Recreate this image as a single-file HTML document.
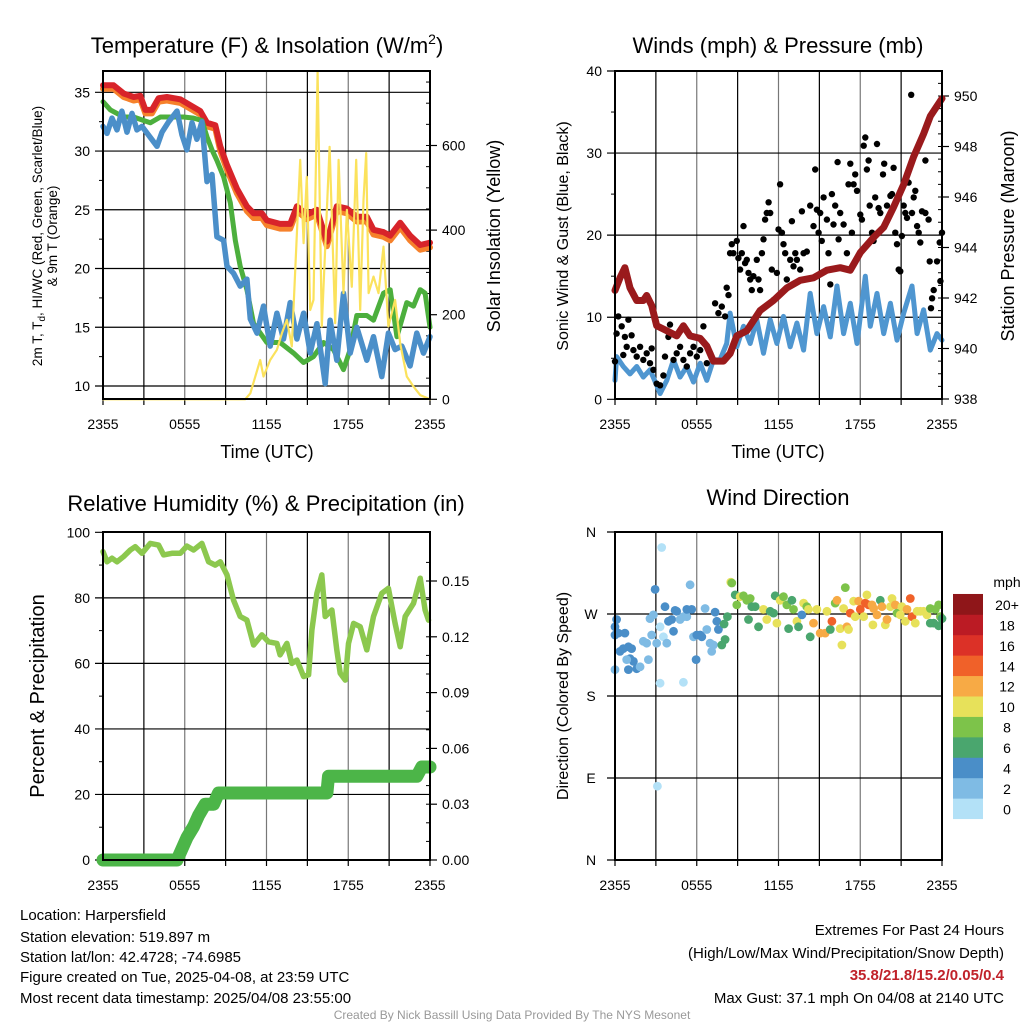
<!DOCTYPE html>
<html><head><meta charset="utf-8"><style>
body{margin:0;background:#fff;}
svg{display:block;font-family:"Liberation Sans",Arial,sans-serif;}
</style></head><body>
<svg id="chart" width="1024" height="1024" viewBox="0 0 1024 1024" xmlns="http://www.w3.org/2000/svg">
<rect width="1024" height="1024" fill="#fff"/>
<g id="layer"></g>
<text x="267" y="53" font-size="22" text-anchor="middle">Temperature (F) &amp; Insolation (W/m<tspan font-size="14" dy="-9">2</tspan><tspan dy="9">)</tspan></text>
<text x="778" y="53" font-size="22" text-anchor="middle">Winds (mph) &amp; Pressure (mb)</text>
<text x="266" y="511" font-size="22" text-anchor="middle">Relative Humidity (%) &amp; Precipitation (in)</text>
<text x="778" y="505" font-size="22" text-anchor="middle">Wind Direction</text>
<text font-size="13.5" text-anchor="middle" transform="translate(42,236) rotate(-90)">2m T, T<tspan font-size="10" dy="3">d</tspan><tspan dy="-3">, HI/WC (Red, Green, Scarlet/Blue)</tspan></text>
<text font-size="13.5" text-anchor="middle" transform="translate(57,236) rotate(-90)">&amp; 9m T (Orange)</text>
<text font-size="18" text-anchor="middle" transform="translate(500,236) rotate(-90)">Solar Insolation (Yellow)</text>
<text x="267" y="458" font-size="18" text-anchor="middle">Time (UTC)</text>
<text x="778" y="458" font-size="18" text-anchor="middle">Time (UTC)</text>
<text font-size="16" text-anchor="middle" transform="translate(568,236) rotate(-90)">Sonic Wind &amp; Gust (Blue, Black)</text>
<text font-size="18" text-anchor="middle" transform="translate(1014,236) rotate(-90)">Station Pressure (Maroon)</text>
<text font-size="20" text-anchor="middle" transform="translate(44,696) rotate(-90)">Percent &amp; Precipitation</text>
<text font-size="16" text-anchor="middle" transform="translate(568,696) rotate(-90)">Direction (Colored By Speed)</text>
<g font-size="15">
<text x="20" y="920">Location: Harpersfield</text>
<text x="20" y="942">Station elevation: 519.897 m</text>
<text x="20" y="962">Station lat/lon: 42.4728; -74.6985</text>
<text x="20" y="982">Figure created on Tue, 2025-04-08, at 23:59 UTC</text>
<text x="20" y="1003">Most recent data timestamp: 2025/04/08 23:55:00</text>
</g>
<g font-size="15" text-anchor="end">
<text x="1004" y="935">Extremes For Past 24 Hours</text>
<text x="1004" y="958">(High/Low/Max Wind/Precipitation/Snow Depth)</text>
<text x="1004" y="980" fill="#c0222a" font-weight="bold">35.8/21.8/15.2/0.05/0.4</text>
<text x="1004" y="1003">Max Gust: 37.1 mph On 04/08 at 2140 UTC</text>
</g>
<text x="512" y="1019" font-size="12" fill="#999" text-anchor="middle">Created By Nick Bassill Using Data Provided By The NYS Mesonet</text>
</svg>
<script>
// ---- Panel 1 data ----
const redT=[0,.78,1.52,2.25,2.74,3.11,3.59,4.08,4.69,5.67,6.41,7.14,7.63,8.24,8.61,9.1,9.83,10.56,11.05,11.66,12.03,13.0,13.74,14.23,14.96,15.7,16.43,17.16,17.9,18.63,19.36,19.85,20.59,21.08,21.81,22.54,23.28,24];
const redV=[35.6,35.6,34.9,34.6,34.7,33.5,33.5,34.5,34.6,34.4,33.9,33.4,32.4,32.2,30.4,28.8,26.8,25.3,24.7,24.7,24.1,23.8,23.8,25.3,24.6,25.0,22.3,25.3,25.1,24.4,24.4,23.3,23.1,22.8,23.9,22.8,22.0,22.2];
const orangeV=[35.3,35.3,34.6,34.3,34.4,33.2,33.2,34.2,34.3,34.1,33.6,33.1,32.1,31.9,30.0,28.4,26.4,24.9,24.3,24.3,23.7,23.4,23.4,24.9,24.2,24.6,21.9,24.9,24.7,24.0,24.0,22.9,22.7,22.4,23.5,22.4,21.6,21.8];
const greenT=[0,.54,1.52,2.25,2.98,3.47,4.21,5.18,5.92,6.65,7.26,7.63,8.0,8.36,8.85,9.34,9.71,10.07,10.56,11.05,12.03,13.0,13.99,14.72,15.45,16.19,16.92,17.65,18.14,18.63,19.36,19.85,20.59,21.08,21.57,22.3,22.79,23.28,23.64,24];
const greenV=[34.2,33.5,32.9,32.9,32.6,32.4,32.9,32.9,32.9,32.8,32.6,31.2,30.1,29.2,27.8,25.6,22.4,20.2,18.2,15.3,13.7,13.7,12.8,12.0,12.5,13.7,13.1,11.4,13.1,16.0,16.0,15.6,17.9,18.2,14.2,17.1,16.8,18.2,17.9,15.0];
const blueT=[0,.29,.66,1.03,1.39,1.76,2.13,2.49,2.86,3.96,4.33,4.82,5.43,5.79,6.16,6.53,6.89,7.26,7.63,8.0,8.36,8.85,9.1,9.58,10.07,10.56,10.81,11.3,11.78,12.27,12.76,13.25,13.74,14.23,14.72,15.21,15.7,16.31,16.67,17.16,17.65,18.14,18.63,19.36,19.85,20.46,20.95,21.44,21.93,22.54,23.03,23.52,24];
const blueV=[32.1,31.5,32.8,31.8,33.4,31.6,33.2,31.8,32.1,30.4,31.6,32.5,33.4,31.4,30.1,32.4,31.0,32.5,27.4,28.0,22.7,22.4,20.2,19.6,18.5,19.1,15.7,14.5,16.8,13.4,16.2,14.0,17.1,14.0,16.2,12.8,15.3,10.2,15.6,12.2,17.9,12.8,15.0,12.2,14.2,10.8,14.5,13.1,13.4,11.7,14.5,12.8,14.2];
const solarT=[0,10.44,10.81,11.54,11.78,12.27,12.76,13.13,13.5,13.86,14.47,14.72,14.96,15.21,15.45,15.75,16.06,16.63,17.04,17.29,17.65,17.9,18.26,18.58,18.88,19.12,19.32,19.49,19.85,20.22,20.59,20.95,21.44,21.81,22.3,22.79,23.28,24];
const solarV=[0,0,14,93,54,93,117,156,188,125,566,369,526,211,235,775,172,597,180,566,251,448,266,566,211,471,582,251,290,251,361,172,235,132,54,30,10,0];
const tempTicks=[10,15,20,25,30,35];
const solarTicks=[0,200,400,600];
const timeLabels=["2355","0555","1155","1755","2355"];
const timeTicks=[0,6,12,18,24];
// ---- Panel 2 data ----
const windT=[0,.12,.61,1.1,1.59,2.08,2.57,3.06,3.31,3.8,4.29,4.78,5.27,5.76,6.25,6.74,7.22,7.71,8.2,8.45,8.94,9.43,9.92,10.41,10.9,11.39,11.88,12.37,12.86,13.35,13.84,14.33,14.82,15.31,15.8,16.29,16.78,17.27,17.76,18.37,18.74,19.23,19.72,20.21,20.7,21.19,21.8,22.17,22.65,23.14,23.63,24];
const windV=[2.3,5.2,4.0,3.1,4.0,2.7,3.6,1.7,0.7,2.3,4.8,2.7,4.0,2.1,4.4,2.3,4.8,4.8,6.8,10.5,6.4,8.9,6.8,9.7,5.6,9.7,6.8,10.1,6.4,9.3,6.0,12.9,8.0,11.3,7.6,13.8,8.0,11.7,6.8,15.0,8.9,12.9,8.0,11.7,7.2,10.5,13.8,8.0,10.9,6.0,8.0,7.2];
const presT=[0,.37,.73,1.1,1.59,2.08,2.33,2.69,3.06,3.8,4.53,5.02,5.51,6.25,6.74,7.22,7.96,8.45,8.94,9.67,10.65,11.63,12.61,13.59,14.57,15.55,16.53,17.27,18.0,18.98,19.72,20.45,21.19,21.92,22.65,23.14,24];
const presV=[942.3,942.8,943.2,942.4,941.9,941.9,942.1,941.7,940.9,940.7,940.5,940.9,940.5,940.4,940.1,939.5,939.5,939.8,940.5,940.7,941.5,941.9,942.4,942.7,942.8,943.1,943.2,943.1,943.8,944.4,944.8,945.6,946.5,947.6,948.5,949.2,949.9];
const gustT=[0,.12,.24,.49,.61,.73,.86,.98,1.22,1.35,1.59,1.84,2.08,2.33,2.57,2.69,2.82,3.06,3.31,3.55,3.67,3.92,4.04,4.29,4.53,4.78,5.02,5.27,5.51,5.76,6.0,6.25,6.49,6.74,6.98,7.35,7.59,7.84,8.08,8.2,8.33,8.45,8.57,8.69,8.94,9.06,9.18,9.31,9.43,9.55,9.67,9.8,9.92,10.04,10.16,10.41,10.53,10.65,10.78,10.9,11.02,11.14,11.27,11.39,11.51,11.63,11.88,12.0,12.12,12.25,12.37,12.49,12.61,12.86,12.98,13.1,13.23,13.35,13.59,13.72,13.84,14.08,14.33,14.57,14.69,14.82,14.94,15.06,15.18,15.31,15.55,15.67,15.8,15.92,16.04,16.16,16.34,16.41,16.53,16.78,17.02,17.14,17.27,17.39,17.51,17.63,17.76,18.0,18.12,18.25,18.37,18.49,18.61,18.69,18.86,18.98,19.1,19.23,19.35,19.47,19.67,19.76,19.96,20.21,20.33,20.45,20.57,20.7,20.82,20.94,21.06,21.19,21.31,21.43,21.55,21.74,21.8,21.92,22.04,22.17,22.29,22.41,22.53,22.78,22.78,23.02,23.1,23.19,23.27,23.39,23.63,23.83,23.88,24];
const gustV=[4.6,8.0,10.1,8.9,5.4,7.6,6.4,9.7,7.8,6.0,5.2,6.4,4.8,5.6,4.4,6.2,3.6,1.9,1.7,2.9,5.2,7.6,9.1,4.8,5.6,6.4,4.8,4.0,5.6,6.4,5.2,6.0,8.9,4.4,5.6,11.7,10.5,11.3,10.1,13.6,12.7,17.8,18.9,17.8,19.3,17.2,15.8,17.8,21.1,16.6,17.0,15.4,14.6,13.3,15.0,17.0,14.6,13.3,17.8,19.5,21.9,22.7,24.0,22.7,15.8,12.1,15.4,20.7,26.2,20.3,18.9,17.8,14.6,17.0,21.7,16.2,17.8,17.0,15.8,22.9,17.8,18.0,23.6,21.1,28.0,23.1,20.3,22.7,19.3,24.6,21.9,17.8,14.0,25.0,21.3,23.6,28.9,19.5,22.7,21.3,17.8,26.2,28.7,20.3,26.2,27.4,25.4,22.5,21.9,30.9,31.9,28.0,29.1,23.6,20.3,19.3,24.6,31.1,23.3,22.7,27.4,28.7,23.6,24.8,25.0,28.2,20.3,18.9,15.8,15.6,19.9,23.6,22.7,22.1,26.4,37.1,22.7,24.6,25.4,21.1,20.3,19.1,22.9,29.1,22.7,21.9,16.8,11.1,12.3,13.3,16.8,19.1,14.4,20.3];
const windTicks=[0,10,20,30,40];
const presTicks=[938,940,942,944,946,948,950];
// ---- Panel 3 data ----
const rhT=[0,.29,.66,1.03,1.52,2.0,2.37,2.86,3.47,4.08,4.45,5.06,5.67,6.16,6.65,7.26,7.75,8.24,8.61,9.1,9.58,10.07,10.56,11.05,11.66,12.15,12.76,13.0,13.5,13.86,14.23,14.72,15.09,15.33,15.7,16.06,16.31,16.8,17.16,17.41,17.78,18.02,18.39,18.88,19.36,19.85,20.46,20.95,21.44,21.81,22.18,22.79,23.28,23.64,23.89];
const rhV=[94.1,91.0,92.1,91.0,92.6,94.6,95.6,93.6,96.6,96.1,93.1,93.6,93.6,95.8,94.6,96.6,91.0,90.0,91.0,87.0,79.3,74.3,73.2,65.6,68.7,66.6,66.1,62.6,66.1,60.0,61.0,56.0,56.5,70.2,81.4,87.0,74.3,76.3,64.1,57.0,54.9,66.1,72.2,71.2,64.1,74.3,81.4,82.9,72.2,65.1,74.3,78.3,86.0,76.3,73.2];
const precT=[0,5.43,5.67,6.16,6.65,7.02,7.5,8.12,8.48,16.43,16.55,23.03,23.4,24];
const precV=[0,0,0.004,0.012,0.018,0.024,0.03,0.03,0.036,0.036,0.045,0.045,0.05,0.05];
const rhTicks=[0,20,40,60,80,100];
const precTicks=[0,0.03,0.06,0.09,0.12,0.15];
// ---- Panel 4 data ----
const dirT=[0,.12,0,.24,.37,.61,.73,.98,1.22,1.1,1.35,.98,1.59,1.84,.86,2.08,2.33,2.45,2.69,2.57,2.82,2.94,3.43,3.06,3.31,3.55,3.67,3.8,3.92,4.16,4.29,4.53,4.78,5.02,5.27,5.51,5.63,5.76,6.0,6.25,6.37,6.61,6.74,6.98,7.22,7.35,7.47,7.59,7.1,5.95,0,3.31,5.02,3.11,4.41,5.27,7.84,8.08,8.01,8.25,8.5,8.57,8.82,8.94,9.18,9.43,9.67,9.92,10.04,9.8,10.29,10.53,10.9,11.14,11.39,11.63,11.88,11.76,12.12,12.37,12.61,12.74,12.98,13.1,13.35,13.47,13.72,13.84,14.08,14.2,14.33,14.57,14.82,15.06,15.43,15.55,15.8,15.92,16.16,16.29,16.53,16.65,16.78,16.9,17.02,17.14,17.27,17.51,17.63,17.88,18.0,18.25,18.37,18.49,18.61,18.86,18.98,18.93,19.23,19.47,19.59,19.84,19.96,20.21,20.33,20.57,20.7,20.94,21.06,21.31,21.43,21.67,21.8,22.04,22.17,22.41,22.65,22.9,23.14,23.39,23.51,23.76,23.88,24,23.76,23.14];
const dirDeg=[256,264,247,249,229,232,249,234,232,221,218,209,210,212,220,240,238,220,247,265,269,297,343,238,256,245,278,238,262,264,251,273,264,267,267,302,275,245,247,247,245,276,253,238,236,272,262,253,229,220,209,194,195,81,274,275,236,242,259,267,305,304,291,280,289,290,285,287,278,264,278,256,275,264,273,271,260,290,285,289,280,254,285,275,262,256,269,282,278,275,245,260,275,249,249,273,253,262,282,285,254,236,276,299,256,253,271,284,267,284,275,267,282,291,280,280,276,258,269,285,278,258,264,278,287,280,271,269,278,262,275,287,267,260,273,273,273,269,276,260,275,280,267,265,257,260];
const dirSpd=[4,4,4,4,4,4,4,4,4,4,4,4,4,2,2,2,2,2,2,2,2,4,0,2,0,0,4,2,4,4,4,4,2,2,2,2,4,2,4,4,4,2,2,2,2,4,4,4,2,4,2,0,0,0,4,4,6,6,6,6,10,8,6,8,10,8,8,8,6,6,6,6,10,10,6,6,10,6,10,8,8,6,6,8,10,6,4,10,8,10,6,12,10,12,12,10,6,14,8,12,10,10,10,8,12,10,14,10,10,12,14,10,14,10,14,12,12,10,12,6,12,10,12,10,10,12,8,10,10,10,12,14,14,10,10,10,10,10,8,6,8,8,8,6,6,6];
const dirLabels=["N","E","S","W","N"];
const dirTicks=[0,90,180,270,360];
const spdLabels=["0","2","4","6","8","10","12","14","16","18","20+"];
const spdColors=["#b3e1f7","#7fbbe4","#4a8ec8","#4aa66e","#7dc34a","#e7e15a","#f7aa45","#f06129","#dc3127","#bb1b24","#8f1619"];

const NS="http://www.w3.org/2000/svg";
const layer=document.getElementById("layer");
function mk(tag,attrs,parent){const e=document.createElementNS(NS,tag);for(const k in attrs)e.setAttribute(k,attrs[k]);(parent||layer).appendChild(e);return e;}
function panel(x0,x1,y0,y1){return {x0,x1,y0,y1,x:t=>x0+(x1-x0)*t/24};}
function lin(d0,d1,p0,p1){return v=>p0+(v-d0)*(p1-p0)/(d1-d0);}
const P1=panel(103,430,71,399),P2=panel(615,942,71,399),P3=panel(103,430,532,860),P4=panel(615,942,532,860);
const yT=lin(10,35,386,92.3), yS=lin(0,600,399.3,145.5);
const yW=lin(0,40,399.3,71), yP=lin(938,950,399,96);
const yR=lin(0,100,860,532.3), yPr=lin(0,0.15,860,581);
const yD=lin(0,360,860,532);

function frame(P,name){
  const g=mk("g",{});
  
  
  for(let i=0;i<=8;i++){const x=P.x0+(P.x1-P.x0)*i/8;mk("line",{x1:x,x2:x,y1:P.y0,y2:P.y1,stroke:(i%2?"#000":"#777"),"stroke-width":1.2},g);mk("line",{x1:x,x2:x,y1:P.y1,y2:P.y1+6,stroke:"#000","stroke-width":1.2},g);}
  timeTicks.forEach((t,i)=>{const tx=mk("text",{x:P.x(t),y:P.y1+30,"font-size":14,"text-anchor":"middle"},g);tx.textContent=timeLabels[i];});
  return g;
}
function box(P,name){const r=mk("rect",{x:P.x0,y:P.y0,width:P.x1-P.x0,height:P.y1-P.y0,fill:"none",stroke:"#000","stroke-width":2});
  
  }
function hgrid(P,ticks,sc,labels,minor,g){
  ticks.forEach((v,i)=>{const y=sc(v);mk("line",{x1:P.x0-8,x2:P.x1,y1:y,y2:y,stroke:"#000","stroke-width":1.2},g);
    const t=mk("text",{x:P.x0-13,y:y+5,"font-size":14,"text-anchor":"end"},g);t.textContent=labels?labels[i]:v;});
  (minor||[]).forEach(v=>{const y=sc(v);mk("line",{x1:P.x0-4,x2:P.x0,y1:y,y2:y,stroke:"#000","stroke-width":1},g);});
}
function raxis(P,ticks,sc,fmt,minor,g){
  ticks.forEach(v=>{const y=sc(v);mk("line",{x1:P.x1,x2:P.x1+7,y1:y,y2:y,stroke:"#000","stroke-width":1.2},g);
    const t=mk("text",{x:P.x1+12,y:y+5,"font-size":14},g);t.textContent=fmt(v);});
  (minor||[]).forEach(v=>{const y=sc(v);mk("line",{x1:P.x1-4,x2:P.x1,y1:y,y2:y,stroke:"#000","stroke-width":1},g);});
}
function path(P,T,V,sc,color,w,name,cap){
  const d=T.map((t,i)=>(i?"L":"M")+P.x(t).toFixed(1)+","+sc(V[i]).toFixed(1)).join("");
  const p=mk("path",{d,fill:"none",stroke:color,"stroke-width":w,"stroke-linejoin":"round","stroke-linecap":cap||"round"});
  
  
  return p;
}
function range(a,b,s){const r=[];for(let v=a;v<=b+1e-9;v+=s)r.push(+v.toFixed(3));return r;}

// Panel 1
let g=frame(P1,"temp");
hgrid(P1,tempTicks,yT,null,range(12.5,35,5),g);
raxis(P1,solarTicks,yS,v=>v,range(50,750,50),g);
path(P1,redT,orangeV,yT,"#f6812b",6,"line-9m-temp");
path(P1,redT,redV,yT,"#d8242a",6,"line-2m-temp");
path(P1,greenT,greenV,yT,"#4caf3d",5,"line-hi-wc");
path(P1,blueT,blueV,yT,"#4b8fc9",5.5,"line-dewpoint");
path(P1,solarT,solarV,yS,"#fbe25c",2.2,"line-solar");
box(P1,"temp");
// Panel 2
g=frame(P2,"wind");
hgrid(P2,windTicks,yW,null,range(5,35,10),g);
raxis(P2,presTicks,yP,v=>v,range(938.5,950.5,0.5),g);
path(P2,windT,windV,yW,"#4f96d0",5,"line-sonic-wind");
gustT.forEach((t,i)=>{const c=mk("circle",{cx:P2.x(t).toFixed(1),cy:yW(gustV[i]).toFixed(1),r:3.2,fill:"#000"});
  
  });
path(P2,presT,presV,yP,"#9a1a1c",7,"line-pressure");
box(P2,"wind");
// Panel 3
g=frame(P3,"rh");
hgrid(P3,rhTicks,yR,null,range(10,90,20),g);
raxis(P3,precTicks,yPr,v=>v.toFixed(2),range(0.01,0.16,0.01),g);
path(P3,rhT,rhV,yR,"#8cc84e",5.5,"line-rh");
path(P3,precT,precV,yPr,"#4cb548",13,"line-precip");
box(P3,"rh");
// Panel 4
g=frame(P4,"dir");
hgrid(P4,dirTicks,yD,dirLabels,[],g);
[...g.querySelectorAll("text")].slice(5).forEach(t=>{t.setAttribute("text-anchor","middle");t.setAttribute("x",P4.x0-24);});
dirT.forEach((t,i)=>{const k=Math.min(10,Math.floor(dirSpd[i]/2));const c=mk("circle",{cx:P4.x(t).toFixed(1),cy:yD(dirDeg[i]).toFixed(1),r:4.4,fill:spdColors[k]});
  
  });
box(P4,"dir");
// colorbar
const cb=mk("g",{});


const mt=mk("text",{x:1007,y:587,"font-size":14,"text-anchor":"middle"},cb);mt.textContent="mph";
spdColors.forEach((c,i)=>{const y=818.7-(i+1)*20.43;mk("rect",{x:953,y:y,width:30,height:20.8,fill:c},cb);
  const t=mk("text",{x:1007,y:y+16,"font-size":14,"text-anchor":"middle"},cb);t.textContent=spdLabels[i];});
</script>
</body></html>
